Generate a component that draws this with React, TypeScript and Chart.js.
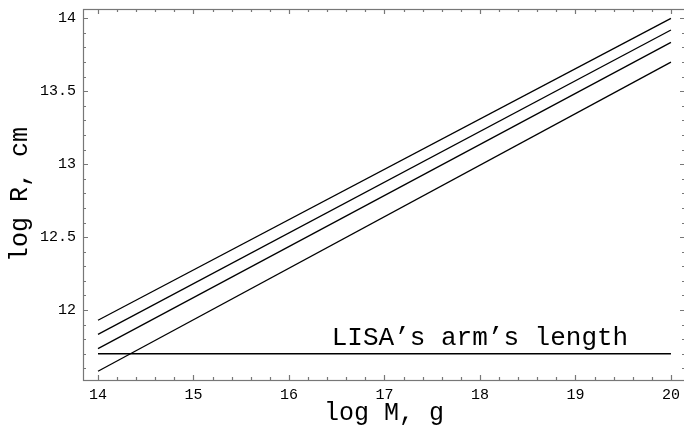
import React, { useEffect, useRef } from "react";
import { Chart, registerables } from "chart.js";

Chart.register(...registerables);

const logM = [14, 20];
const curve1 = [11.93, 14.0];
const curve2 = [11.833, 13.92];
const curve3 = [11.735, 13.835];
const curve4 = [11.58, 13.7];
const lisaLength = [11.7, 11.7];

const xMajorTicks = [14, 15, 16, 17, 18, 19, 20];
const yMajorTicks = [12, 12.5, 13, 13.5, 14];
const xTitle = "log M, g";
const yTitle = "log R, cm";
const lisaLabel = "LISA\u2019s arm\u2019s length";

const FONT = '"Liberation Mono", "Courier New", monospace';

export default function App() {
  const ref = useRef<HTMLCanvasElement | null>(null);

  useEffect(() => {
    const canvas = ref.current;
    if (!canvas) return;

    const mkLine = (ys: number[]) => ({
      data: logM.map((x, i) => ({ x, y: ys[i] })),
      showLine: true,
      borderColor: "#000",
      borderWidth: 1.3,
      pointRadius: 0,
      fill: false,
    });

    const framePlugin = {
      id: "frame",
      afterDraw(chart: any) {
        const { ctx, chartArea } = chart;
        const xs = chart.scales.x;
        const ys = chart.scales.y;
        const { left, right, top, bottom } = chartArea;
        ctx.save();
        ctx.strokeStyle = "#777";
        ctx.lineWidth = 1.2;
        ctx.strokeRect(Math.round(left) + 0.5, Math.round(top) + 0.5, Math.round(right - left), Math.round(bottom - top));
        const major = 5;
        const minor = 3;
        ctx.beginPath();
        for (let m = 0; m < xMajorTicks.length; m++) {
          const base = xMajorTicks[m];
          for (let k = 0; k < 5; k++) {
            if (m === xMajorTicks.length - 1 && k > 0) continue;
            const v = base + k * 0.2;
            const px = Math.round(xs.getPixelForValue(v)) + 0.5;
            const len = k === 0 ? major : minor;
            ctx.moveTo(px, bottom);
            ctx.lineTo(px, bottom - len);
            ctx.moveTo(px, top);
            ctx.lineTo(px, top + len);
          }
        }
        for (let i = 0; i <= 24; i++) {
          const v = 11.6 + i * 0.1;
          const isMajor = Math.abs(v * 2 - Math.round(v * 2)) < 1e-6;
          const py = Math.round(ys.getPixelForValue(v)) + 0.5;
          const len = isMajor ? major : minor;
          ctx.moveTo(left, py);
          ctx.lineTo(left + len, py);
          ctx.moveTo(right, py);
          ctx.lineTo(right - len, py);
        }
        ctx.stroke();

        ctx.fillStyle = "#000";
        ctx.font = `25px ${FONT}`;
        ctx.textAlign = "center";
        ctx.textBaseline = "alphabetic";
        ctx.fillText(xTitle, (left + right) / 2, 420);

        ctx.save();
        ctx.translate(27, (top + bottom) / 2);
        ctx.rotate(-Math.PI / 2);
        ctx.fillText(yTitle, 0, 0);
        ctx.restore();

        ctx.font = `26px ${FONT}`;
        const lx = xs.getPixelForValue(18.0);
        const ly = ys.getPixelForValue(lisaLength[0]) - 9;
        ctx.fillText(lisaLabel, lx, ly);
        ctx.restore();
      },
    };

    const chart = new Chart(canvas, {
      type: "scatter",
      data: {
        datasets: [mkLine(curve1), mkLine(curve2), mkLine(curve3), mkLine(curve4), mkLine(lisaLength)],
      },
      options: {
        animation: false,
        responsive: false,
        devicePixelRatio: 1,
        layout: { padding: { top: 9, right: 3, left: 0, bottom: 0 } },
        plugins: { legend: { display: false }, tooltip: { enabled: false } },
        scales: {
          x: {
            type: "linear",
            min: 13.843,
            max: 20.147,
            grid: { display: false, drawTicks: false },
            border: { display: false },
            afterBuildTicks: (s: any) => {
              s.ticks = xMajorTicks.map((v) => ({ value: v }));
            },
            afterFit: (s: any) => {
              s.height = 46;
              s.paddingLeft = 0;
              s.paddingRight = 0;
            },
            ticks: {
              color: "#000",
              padding: 6,
              maxRotation: 0,
              autoSkip: false,
              font: { family: FONT, size: 15 },
              callback: (v: any) => String(v),
            },
          },
          y: {
            type: "linear",
            min: 11.52,
            max: 14.064,
            grid: { display: false, drawTicks: false },
            border: { display: false },
            afterBuildTicks: (s: any) => {
              s.ticks = yMajorTicks.map((v) => ({ value: v }));
            },
            afterFit: (s: any) => {
              s.width = 83;
              s.paddingTop = 0;
              s.paddingBottom = 0;
            },
            ticks: {
              color: "#000",
              padding: 7,
              autoSkip: false,
              font: { family: FONT, size: 15 },
              callback: (v: any) => String(v),
            },
          },
        },
      },
      plugins: [framePlugin],
    } as any);

    return () => chart.destroy();
  }, []);

  return (
    <div style={{ position: "fixed", left: 0, top: 0, width: 684, height: 426, overflow: "hidden", background: "#fff" }}>
      <canvas ref={ref} width={688} height={426} style={{ display: "block" }} />
    </div>
  );
}
